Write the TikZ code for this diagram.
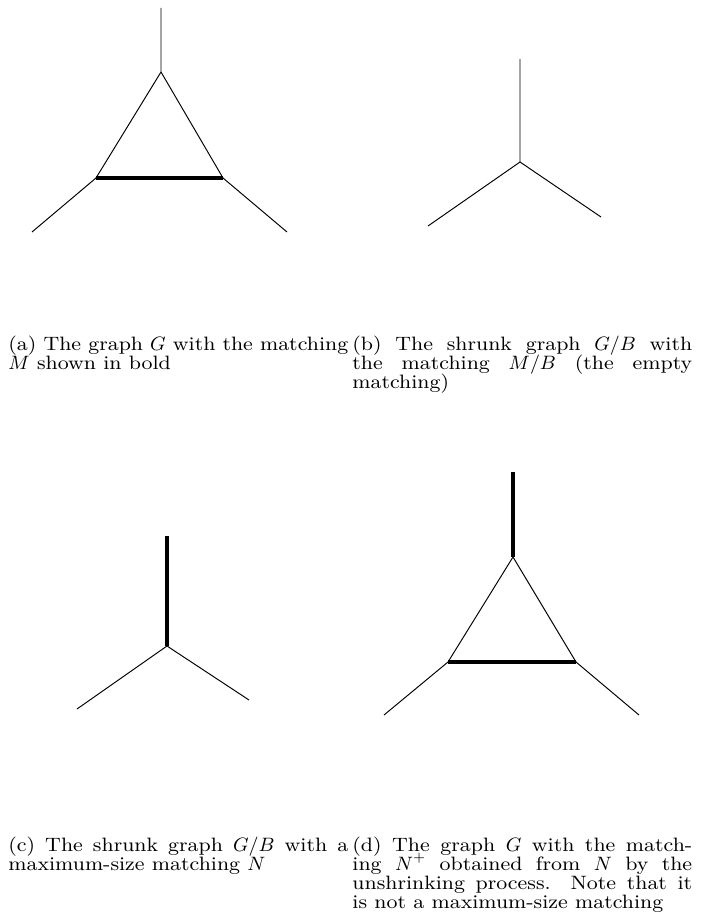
\documentclass[tikz,border=0pt]{standalone}
\usepackage{amsmath}
\usepackage{fontspec}
\setmainfont{Latin Modern Roman}[FakeStretch=1.1]
\usepackage{tikz}
\newcommand{\captfont}{\fontsize{9}{8.9}\selectfont\setlength{\lineskiplimit}{-4pt}}
\begin{document}
\begin{tikzpicture}[x=0.465pt, y=-0.465pt,
  plain/.style={line width=0.45pt},
  matched/.style={line width=1.9pt},
  capt/.style={anchor=base west, text width=158pt, align=justify, inner sep=0pt, font=\captfont}]
\useasboundingbox (0,0) rectangle (706,915);
% (a) the graph G with M
\coordinate (atop) at (161,8);
\coordinate (ac)   at (161,72);
\coordinate (al)   at (96,178);
\coordinate (ar)   at (223,178);
\coordinate (all)  at (32,232);
\coordinate (arr)  at (287,232);
\draw[plain] (atop) -- (ac) -- (al) (ac) -- (ar) (al) -- (all) (ar) -- (arr);
\draw[matched] (al) -- (ar);
% (b) shrunk graph G/B
\coordinate (btop) at (520,59);
\coordinate (bc)   at (520,162);
\coordinate (bl)   at (428,226);
\coordinate (br)   at (601,217);
\draw[plain] (btop) -- (bc) -- (bl) (bc) -- (br);
% (c) shrunk graph with N
\coordinate (ctop) at (167,536);
\coordinate (cc)   at (167,646);
\coordinate (cl)   at (77,709);
\coordinate (cr)   at (249,700);
\draw[matched] (ctop) -- (cc);
\draw[plain] (cc) -- (cl) (cc) -- (cr);
% (d) unshrunk, N+
\coordinate (dtop) at (513,472);
\coordinate (dc)   at (513,557);
\coordinate (dl)   at (448,662);
\coordinate (dr)   at (576,662);
\coordinate (dll)  at (384,715);
\coordinate (drr)  at (639,715);
\draw[plain] (dc) -- (dl) (dc) -- (dr) (dl) -- (dll) (dr) -- (drr);
\draw[matched] (dtop) -- (dc) (dl) -- (dr);
% captions
\node[capt] (capa) at (8,350)   {(a) The graph $G$ with the matching\linebreak $M$ shown in bold};
\node[capt] (capb) at (352,350) {(b) The shrunk graph $G/B$ with\linebreak the matching $M/B$ (the empty\linebreak matching)};
\node[capt] (capc) at (8,851)   {(c) The shrunk graph $G/B$ with a\linebreak maximum-size matching $N$};
\node[capt] (capd) at (352,851) {(d) The graph $G$ with the match-\linebreak ing $N^+$ obtained from $N$ by the\linebreak unshrinking process.  Note that it\linebreak is not a maximum-size matching};
\end{tikzpicture}
\end{document}
